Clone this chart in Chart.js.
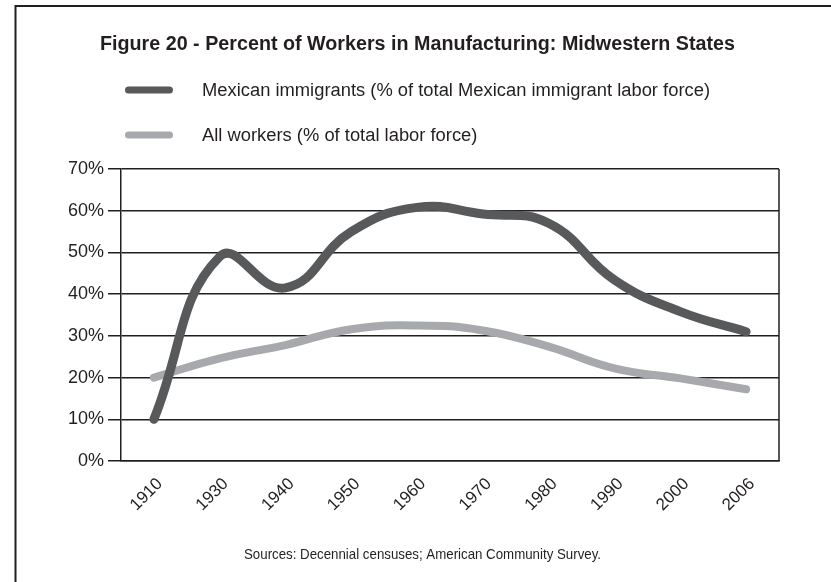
<!DOCTYPE html>
<html>
<head>
<meta charset="utf-8">
<title>Percent of Workers in Manufacturing: Midwestern States</title>
<script src="https://cdn.jsdelivr.net/npm/chart.js@4.4.1/dist/chart.umd.min.js"></script>
<style>
  html, body { margin: 0; padding: 0; background: #fff; }
  #wrap { position: relative; width: 831px; height: 582px; }
</style>
</head>
<body>
<div id="wrap"><canvas id="manufChart" width="831" height="582"></canvas></div>
<script>
// census years on the x axis
const years = ['1910', '1930', '1940', '1950', '1960', '1970', '1980', '1990', '2000', '2006'];

// share of workers in manufacturing, %
const mexicanPct = [10, 49, 41.5, 55, 60.8, 59.2, 57, 43.4, 35.8, 31];
const allWorkersPct = [20, 24.6, 27.8, 31.6, 32.5, 31.3, 27.4, 22.2, 19.8, 17.2];

// y axis range and step
const yMin = 0;
const yMax = 70;
const yStep = 10;

const titleText = 'Figure 20 - Percent of Workers in Manufacturing: Midwestern States';
const sourceText = 'Sources: Decennial censuses; American Community Survey.';
const seriesNames = [
  'Mexican immigrants (% of total Mexican immigrant labor force)',
  'All workers (% of total labor force)'
];

const INK = '#231f20';
const SANS = '"Liberation Sans", Arial, Helvetica, sans-serif';

// condensed look: squeeze the text horizontally by k
function drawSqueezed(ctx, text, x, y, k, align) {
  ctx.save();
  ctx.translate(x, y);
  ctx.scale(k, 1);
  ctx.textAlign = align;
  ctx.fillText(text, 0, 0);
  ctx.restore();
}

// page frame, plot box edge, title, legend and source note
const figureText = {
  id: 'figureText',
  beforeDraw(chart) {
    const { ctx } = chart;
    ctx.save();
    ctx.fillStyle = '#fff';
    ctx.fillRect(0, 0, chart.width, chart.height);
    ctx.strokeStyle = INK;
    ctx.lineWidth = 2;
    ctx.beginPath();
    ctx.moveTo(15.5, chart.height);
    ctx.lineTo(15.5, 6);
    ctx.lineTo(chart.width, 6);
    ctx.stroke();
    ctx.restore();
  },
  afterDraw(chart) {
    const { ctx, chartArea } = chart;
    ctx.save();

    ctx.strokeStyle = INK;
    ctx.lineWidth = 1.5;
    ctx.beginPath();
    ctx.moveTo(chartArea.right, chartArea.top);
    ctx.lineTo(chartArea.right, chartArea.bottom);
    ctx.stroke();

    ctx.fillStyle = INK;
    ctx.textBaseline = 'alphabetic';

    ctx.font = 'bold 20px ' + SANS;
    let k = 635 / ctx.measureText(titleText).width;
    drawSqueezed(ctx, titleText, 417.5, 50, k, 'center');

    // legend rows
    ctx.font = '18px ' + SANS;
    k = 508 / ctx.measureText(seriesNames[0]).width;
    chart.data.datasets.forEach((ds, i) => {
      const y = 90 + i * 45;
      ctx.strokeStyle = ds.borderColor;
      ctx.lineWidth = 7;
      ctx.lineCap = 'round';
      ctx.beginPath();
      ctx.moveTo(128.5, y);
      ctx.lineTo(169.5, y);
      ctx.stroke();
      drawSqueezed(ctx, ds.label, 202, y + 5.5, k, 'left');
    });

    ctx.font = '14.5px ' + SANS;
    k = 357 / ctx.measureText(sourceText).width;
    drawSqueezed(ctx, sourceText, 422.5, 559, k, 'center');
    ctx.restore();
  }
};

new Chart(document.getElementById('manufChart'), {
  type: 'line',
  data: {
    labels: years,
    datasets: [
      {
        label: seriesNames[0],
        data: mexicanPct,
        borderColor: '#58595b',
        borderWidth: 9,
        borderCapStyle: 'round',
        borderJoinStyle: 'round',
        tension: 0.45,
        pointRadius: 0,
        fill: false
      },
      {
        label: seriesNames[1],
        data: allWorkersPct,
        borderColor: '#a7a9ac',
        borderWidth: 8,
        borderCapStyle: 'round',
        borderJoinStyle: 'round',
        tension: 0.45,
        pointRadius: 0,
        fill: false
      }
    ]
  },
  options: {
    responsive: false,
    animation: false,
    layout: { padding: { left: 0, top: 169, right: 52, bottom: 0 } },
    plugins: {
      legend: { display: false },
      title: { display: false },
      tooltip: { enabled: false }
    },
    scales: {
      x: {
        offset: true,
        grid: { display: false },
        border: { display: true, color: INK, width: 1.5 },
        ticks: {
          color: INK,
          font: { family: SANS, size: 17 },
          minRotation: 45,
          maxRotation: 45,
          autoSkip: false,
          padding: 5,
          labelOffset: 6
        },
        afterFit(scale) { scale.height = 121; }
      },
      y: {
        min: yMin,
        max: yMax,
        grid: { color: INK, lineWidth: 1.5, tickLength: 13, drawTicks: true },
        border: { display: true, color: INK, width: 1.5 },
        ticks: {
          stepSize: yStep,
          color: INK,
          font: { family: SANS, size: 18 },
          padding: 4,
          callback: (v) => v + '%'
        },
        afterFit(scale) { scale.width = 121; }
      }
    }
  },
  plugins: [figureText]
});
</script>
</body>
</html>
